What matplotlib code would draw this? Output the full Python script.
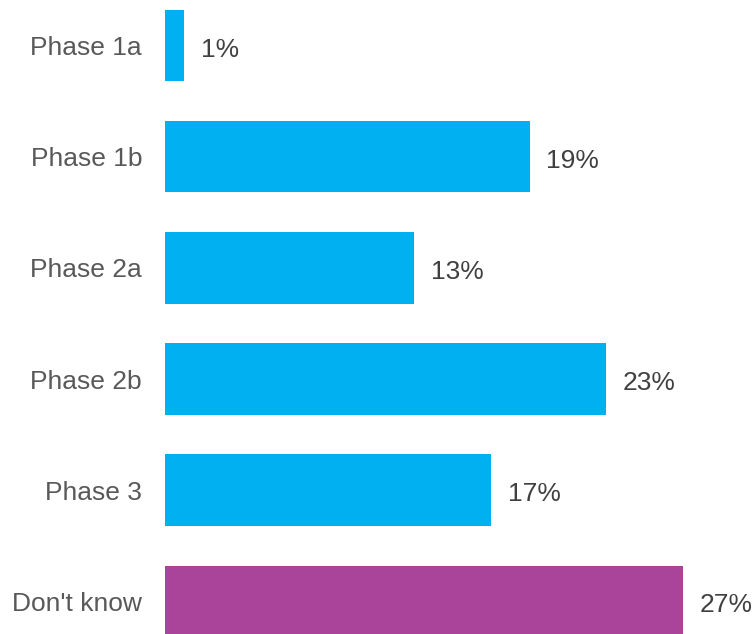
import matplotlib
matplotlib.use("Agg")
import matplotlib.pyplot as plt

categories = ["Phase 1a", "Phase 1b", "Phase 2a", "Phase 2b", "Phase 3", "Don't know"]
values = [1, 19, 13, 23, 17, 27]
colors = ["#00B0F0"] * 5 + ["#A9449A"]

plt.rcParams["font.family"] = ["Liberation Sans", "DejaVu Sans"]

fig = plt.figure(figsize=(7.55, 6.34), dpi=100)
ax = fig.add_axes([165 / 755, 0, 590 / 755, 1])

ypos = list(range(len(categories)))
ax.barh(ypos, values, height=0.64, color=colors)

for y, v in zip(ypos, values):
    ax.annotate(f"{v}%", (v, y), xytext=(12, -3), textcoords="offset points",
                va="center", ha="left", fontsize=19, color="#404040")

ax.set_xlim(0, 590 / 19.19)
ax.set_ylim(5.297, -0.414)
ax.set_yticks(ypos)
ax.set_yticklabels(categories, fontsize=19, color="#595959")
ax.tick_params(axis="y", length=0, pad=16.5)
ax.set_xticks([])
for s in ax.spines.values():
    s.set_visible(False)

fig.savefig("out.png", dpi=100)
